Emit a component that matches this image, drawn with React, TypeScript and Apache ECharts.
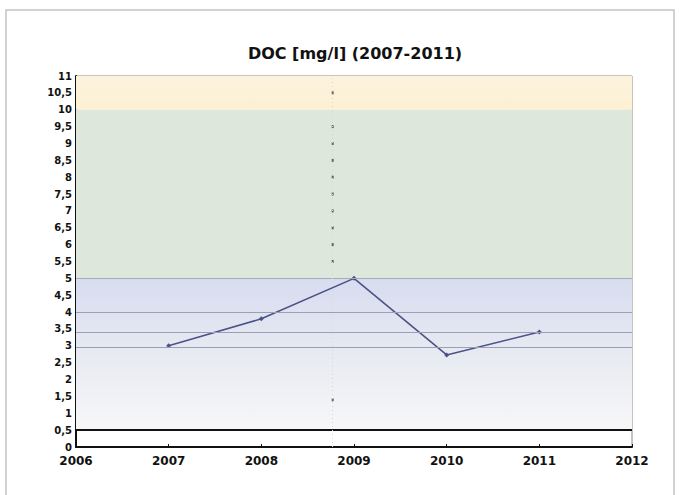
import React, { useEffect, useRef } from "react";
import * as echarts from "echarts";

const titleText = "DOC [mg/l] (2007-2011)";
const years = [2007, 2008, 2009, 2010, 2011];
const docValues = [3.0, 3.8, 5.0, 2.73, 3.41];
const statLines = [4.0, 3.4, 2.95];
const boundaryLine = 5;
const minLine = 0.5;
const yellowBand = [10, 11];
const greenBand = [5, 10];
const blueBand = [0.5, 5];
const dotYear = 2008.77;
const dotValues = [10.5, 9.5, 9, 8.5, 8, 7.5, 7, 6.5, 6, 5.5, 1.4];
const xMin = 2006;
const xMax = 2012;
const yMin = 0;
const yMax = 11;

export default function App() {
  const ref = useRef<HTMLDivElement>(null);
  useEffect(() => {
    if (!ref.current) return;
    const chart = echarts.init(ref.current, null, { renderer: "svg" });
    const font = "'DejaVu Sans', 'Open Sans', sans-serif";
    chart.setOption({
      animation: false,
      backgroundColor: "#ffffff",
      title: {
        text: titleText,
        left: 350,
        top: 40,
        textAlign: "center",
        textStyle: { fontFamily: font, fontWeight: "bold", fontSize: 16, color: "#111" },
      },
      graphic: [
        {
          type: "rect",
          shape: { x: 6, y: 10, width: 668, height: 500 },
          style: { fill: "none", stroke: "#c4c4c4", lineWidth: 1.5 },
          silent: true,
        },
      ],
      grid: { left: 76, right: 47, top: 76, bottom: 48, show: true, borderColor: "#8d8a80", borderWidth: 1 },
      xAxis: {
        type: "value",
        min: xMin,
        max: xMax,
        interval: 1,
        axisLine: { show: true, onZero: false, lineStyle: { color: "#111", width: 2 } },
        axisTick: { show: true, inside: true, length: 3, lineStyle: { color: "#111" } },
        splitLine: { show: false },
        axisLabel: {
          fontFamily: font,
          fontWeight: "bold",
          fontSize: 12,
          color: "#111",
          margin: 8,
          formatter: (v: number) => String(v),
        },
      },
      yAxis: {
        type: "value",
        min: yMin,
        max: yMax,
        interval: 0.5,
        axisLine: { show: true, lineStyle: { color: "#111", width: 2 } },
        axisTick: { show: false },
        splitLine: { show: false },
        axisLabel: {
          fontFamily: font,
          fontWeight: "bold",
          fontSize: 10,
          color: "#111",
          margin: 4,
          formatter: (v: number) => String(v).replace(".", ","),
        },
      },
      series: [
        {
          type: "line",
          name: "bands",
          data: [],
          silent: true,
          markArea: {
            silent: true,
            data: [
              [
                { yAxis: yellowBand[0], itemStyle: { color: new echarts.graphic.LinearGradient(0, 0, 0, 1, [
                  { offset: 0, color: "#fcf3de" },
                  { offset: 1, color: "#fdf0d2" },
                ]) } },
                { yAxis: yellowBand[1] },
              ],
              [
                { yAxis: greenBand[0], itemStyle: { color: "#dde7db" } },
                { yAxis: greenBand[1] },
              ],
              [
                { yAxis: blueBand[0], itemStyle: { color: new echarts.graphic.LinearGradient(0, 0, 0, 1, [
                  { offset: 0, color: "#d7dcf0" },
                  { offset: 0.45, color: "#e6e9f1" },
                  { offset: 1, color: "#f7f7f8" },
                ]) } },
                { yAxis: blueBand[1] },
              ],
            ],
          },
          markLine: {
            silent: true,
            symbol: "none",
            label: { show: false },
            data: [
              ...statLines.map((v) => ({ yAxis: v, lineStyle: { color: "#9aa0b4", width: 1.2, type: "solid" } })),
              { yAxis: boundaryLine, lineStyle: { color: "#a7aab8", width: 1.2, type: "solid" } },
              { yAxis: minLine, lineStyle: { color: "#111", width: 2.2, type: "solid" } },
              { xAxis: dotYear, lineStyle: { color: "#d3d8cf", width: 1, type: [1, 3] } },
            ],
          },
        },
        {
          type: "scatter",
          name: "dots",
          data: dotValues.map((v) => [dotYear, v]),
          symbol: "rect",
          symbolSize: [2, 3],
          itemStyle: { color: "#3d4a3a" },
          silent: true,
          z: 3,
        },
        {
          type: "line",
          name: "DOC",
          data: years.map((y, i) => [y, docValues[i]]),
          symbol: "diamond",
          symbolSize: 5,
          showSymbol: true,
          lineStyle: { color: "#4c5286", width: 1.6 },
          itemStyle: { color: "#4c5286" },
          z: 4,
        },
      ],
    });
    return () => chart.dispose();
  }, []);
  return <div ref={ref} style={{ position: "fixed", left: 0, top: 0, width: 679, height: 495 }} />;
}
